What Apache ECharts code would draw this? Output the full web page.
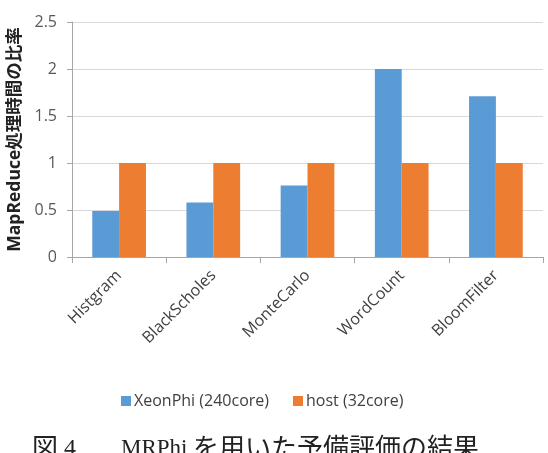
<!DOCTYPE html>
<html>
<head>
<meta charset="utf-8">
<script src="https://cdn.jsdelivr.net/npm/echarts@6/dist/echarts.min.js"></script>
<style>
  html, body { margin: 0; padding: 0; background: #fff; }
  #chart { width: 548px; height: 453px; }
</style>
</head>
<body>
<div id="chart"></div>
<script>
  // data
  var categories = ['Histgram', 'BlackScholes', 'MonteCarlo', 'WordCount', 'BloomFilter'];
  var xeonPhi = [0.49, 0.58, 0.76, 2.0, 1.71];
  var host = [1, 1, 1, 1, 1];
  var seriesNames = ['XeonPhi (240core)', 'host (32core)'];
  var yTitle = 'MapReduce処理時間の比率';

  var serif = 'Liberation Serif, Noto Sans CJK JP, serif';
  var myChart = echarts.init(document.getElementById('chart'));
  var option = {
    animation: false,
    color: ['#5B9BD5', '#ED7D31'],
    grid: { left: 72, right: 5, top: 22, bottom: 196, outerBoundsMode: 'none' },
    legend: {
      data: seriesNames,
      left: 116,
      top: 388,
      itemWidth: 10,
      itemHeight: 10,
      itemGap: 24,
      icon: 'rect',
      textStyle: { fontSize: 16, color: '#404040', fontFamily: 'Open Sans, sans-serif', padding: [0, 0, 0, -2] }
    },
    xAxis: {
      type: 'category',
      data: categories,
      axisLine: { lineStyle: { color: '#a6a6a6' } },
      axisTick: { show: true, length: 6, lineStyle: { color: '#a6a6a6' } },
      axisLabel: {
        rotate: 45,
        margin: 16,
        fontSize: 16,
        color: '#404040',
        fontFamily: 'Open Sans, sans-serif'
      }
    },
    yAxis: {
      type: 'value',
      min: 0,
      max: 2.5,
      interval: 0.5,
      name: yTitle,
      nameLocation: 'middle',
      nameGap: 47,
      nameTextStyle: { fontSize: 17.5, fontWeight: 'bold', color: '#222', fontFamily: 'Open Sans, Noto Sans CJK JP, sans-serif' },
      axisLine: { show: true, lineStyle: { color: '#a6a6a6' } },
      axisTick: { show: true, length: 5, lineStyle: { color: '#a6a6a6' } },
      axisLabel: { fontSize: 16, color: '#595959', margin: 15, fontFamily: 'Open Sans, sans-serif' },
      splitLine: { lineStyle: { color: '#d9d9d9' } }
    },
    series: [
      { name: seriesNames[0], type: 'bar', data: xeonPhi, barGap: '0%', barCategoryGap: '43%' },
      { name: seriesNames[1], type: 'bar', data: host, barGap: '0%', barCategoryGap: '43%' }
    ],
    // figure caption, cut off by the bottom edge as in the scan
    graphic: [
      { type: 'text', left: 32, top: 437, style: { text: '図', fontSize: 26, fill: '#222', fontFamily: serif } },
      { type: 'text', left: 64, top: 437, style: { text: '4', fontSize: 24, fill: '#222', fontFamily: serif } },
      { type: 'text', left: 121, top: 437, style: { text: 'MRPhi', fontSize: 23, fill: '#222', fontFamily: serif } },
      { type: 'text', left: 193, top: 437, style: { text: 'を用いた予備評価の結果', fontSize: 26, fill: '#222', fontFamily: serif } }
    ]
  };
  myChart.setOption(option);
</script>
</body>
</html>
